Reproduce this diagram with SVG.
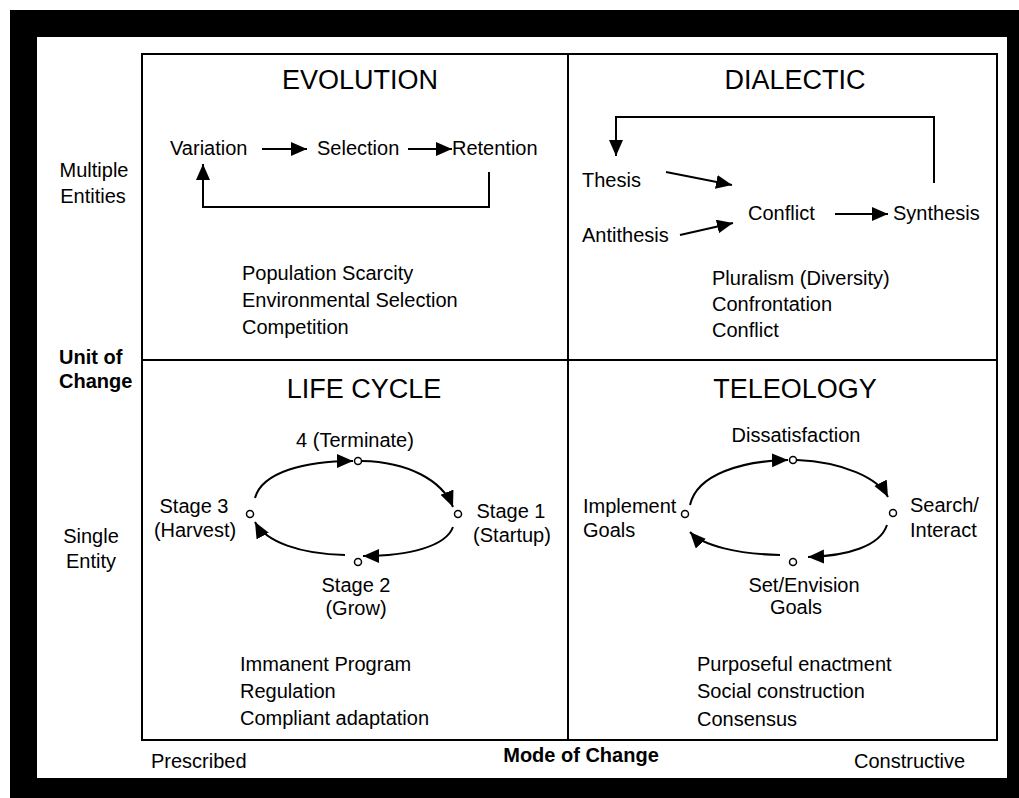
<svg xmlns="http://www.w3.org/2000/svg" width="1019" height="798" viewBox="0 0 1019 798">
  <style>
    text { font-family: "Liberation Sans", Arial, sans-serif; fill: #000; }
    .title { font-size: 27px; text-anchor: middle; }
    .lbl { font-size: 20px; }
    .mid { text-anchor: middle; }
    .bold { font-weight: bold; }
    .grid { fill: none; stroke: #000; stroke-width: 2; }
    .conn { fill: none; stroke: #000; stroke-width: 2; }
    .node { fill: #fff; stroke: #000; stroke-width: 1.5; }
  </style>
  <defs>
    <marker id="arrow" markerUnits="userSpaceOnUse" markerWidth="18" markerHeight="16" refX="16" refY="7" orient="auto">
      <path d="M0,0 L16,7 L0,14 z" fill="#000"/>
    </marker>
  </defs>

  <!-- page and frame -->
  <rect x="0" y="0" width="1019" height="798" fill="#fff"/>
  <rect x="10" y="10" width="1009" height="788" fill="#000"/>
  <rect x="37" y="37" width="970" height="741" fill="#fff"/>

  <!-- 2x2 grid -->
  <g id="grid">
    <rect class="grid" x="142" y="54" width="855" height="686"/>
    <line class="grid" x1="568" y1="54" x2="568" y2="740"/>
    <line class="grid" x1="142" y1="360" x2="997" y2="360"/>
  </g>

  <!-- axis labels -->
  <g id="axis-unit">
    <text class="lbl mid" x="94" y="177">Multiple</text>
    <text class="lbl mid" x="93" y="203">Entities</text>
    <text class="lbl bold" x="59" y="364">Unit of</text>
    <text class="lbl bold" x="59" y="388">Change</text>
    <text class="lbl mid" x="91" y="543">Single</text>
    <text class="lbl mid" x="91" y="568">Entity</text>
  </g>
  <g id="axis-mode">
    <text class="lbl" x="151" y="768">Prescribed</text>
    <text class="lbl bold mid" x="581" y="762">Mode of Change</text>
    <text class="lbl" x="854" y="768">Constructive</text>
  </g>

  <!-- Evolution quadrant -->
  <g id="evolution">
    <text class="title" x="360" y="89">EVOLUTION</text>
    <text class="lbl" x="170" y="155">Variation</text>
    <text class="lbl" x="317" y="155">Selection</text>
    <text class="lbl" x="452" y="155">Retention</text>
    <text class="lbl" x="242" y="280">Population Scarcity</text>
    <text class="lbl" x="242" y="307">Environmental Selection</text>
    <text class="lbl" x="242" y="334">Competition</text>
  </g>

  <!-- Dialectic quadrant -->
  <g id="dialectic">
    <text class="title" x="795" y="89">DIALECTIC</text>
    <text class="lbl" x="582" y="187">Thesis</text>
    <text class="lbl" x="582" y="242">Antithesis</text>
    <text class="lbl" x="748" y="220">Conflict</text>
    <text class="lbl" x="893" y="220">Synthesis</text>
    <text class="lbl" x="712" y="285">Pluralism (Diversity)</text>
    <text class="lbl" x="712" y="311">Confrontation</text>
    <text class="lbl" x="712" y="337">Conflict</text>
  </g>

  <!-- Life cycle quadrant -->
  <g id="life-cycle">
    <text class="title" x="364" y="398">LIFE CYCLE</text>
    <text class="lbl mid" x="355" y="447">4 (Terminate)</text>
    <text class="lbl mid" x="194" y="513">Stage 3</text>
    <text class="lbl mid" x="195" y="537">(Harvest)</text>
    <text class="lbl mid" x="511" y="518">Stage 1</text>
    <text class="lbl mid" x="512" y="542">(Startup)</text>
    <text class="lbl mid" x="356" y="592">Stage 2</text>
    <text class="lbl mid" x="356" y="615">(Grow)</text>
    <circle class="node" cx="358" cy="461" r="3.5"/>
    <circle class="node" cx="458" cy="514" r="3.5"/>
    <circle class="node" cx="358" cy="562" r="3.5"/>
    <circle class="node" cx="250" cy="514" r="3.5"/>
    <text class="lbl" x="240" y="671">Immanent Program</text>
    <text class="lbl" x="240" y="698">Regulation</text>
    <text class="lbl" x="240" y="725">Compliant adaptation</text>
  </g>

  <!-- Teleology quadrant -->
  <g id="teleology">
    <text class="title" x="795" y="398">TELEOLOGY</text>
    <text class="lbl mid" x="796" y="442">Dissatisfaction</text>
    <text class="lbl" x="583" y="513">Implement</text>
    <text class="lbl" x="583" y="537">Goals</text>
    <text class="lbl" x="910" y="512">Search/</text>
    <text class="lbl" x="910" y="537">Interact</text>
    <text class="lbl mid" x="804" y="592">Set/Envision</text>
    <text class="lbl mid" x="796" y="614">Goals</text>
    <circle class="node" cx="793" cy="460" r="3.5"/>
    <circle class="node" cx="893" cy="513" r="3.5"/>
    <circle class="node" cx="793" cy="562" r="3.5"/>
    <circle class="node" cx="685" cy="514" r="3.5"/>
    <text class="lbl" x="697" y="671">Purposeful enactment</text>
    <text class="lbl" x="697" y="698">Social construction</text>
    <text class="lbl" x="697" y="726">Consensus</text>
  </g>

  <!-- connectors -->
  <g id="connectors">
    <!-- evolution -->
    <line class="conn" x1="262" y1="149" x2="307" y2="149" marker-end="url(#arrow)"/>
    <line class="conn" x1="408" y1="149" x2="452" y2="149" marker-end="url(#arrow)"/>
    <path class="conn" d="M489,172 V207 H203 V164" marker-end="url(#arrow)"/>
    <!-- dialectic -->
    <path class="conn" d="M934,183 V117 H616 V156" marker-end="url(#arrow)"/>
    <line class="conn" x1="666" y1="172" x2="732" y2="185" marker-end="url(#arrow)"/>
    <line class="conn" x1="680" y1="235" x2="733" y2="223" marker-end="url(#arrow)"/>
    <line class="conn" x1="835" y1="214" x2="888" y2="214" marker-end="url(#arrow)"/>
    <!-- life cycle -->
    <path class="conn" d="M255,498 C262,472 305,461 353,461" marker-end="url(#arrow)"/>
    <path class="conn" d="M362,461 C408,462 442,480 453,507" marker-end="url(#arrow)"/>
    <path class="conn" d="M453,527 C446,546 410,556 363,556" marker-end="url(#arrow)"/>
    <path class="conn" d="M345,555 C300,554 266,542 255,522" marker-end="url(#arrow)"/>
    <!-- teleology -->
    <path class="conn" d="M690,505 C697,474 742,461 788,460" marker-end="url(#arrow)"/>
    <path class="conn" d="M797,460 C843,462 878,478 888,497" marker-end="url(#arrow)"/>
    <path class="conn" d="M887,525 C880,546 848,556 808,557" marker-end="url(#arrow)"/>
    <path class="conn" d="M780,555 C738,554 703,546 690,532" marker-end="url(#arrow)"/>
  </g>
</svg>
